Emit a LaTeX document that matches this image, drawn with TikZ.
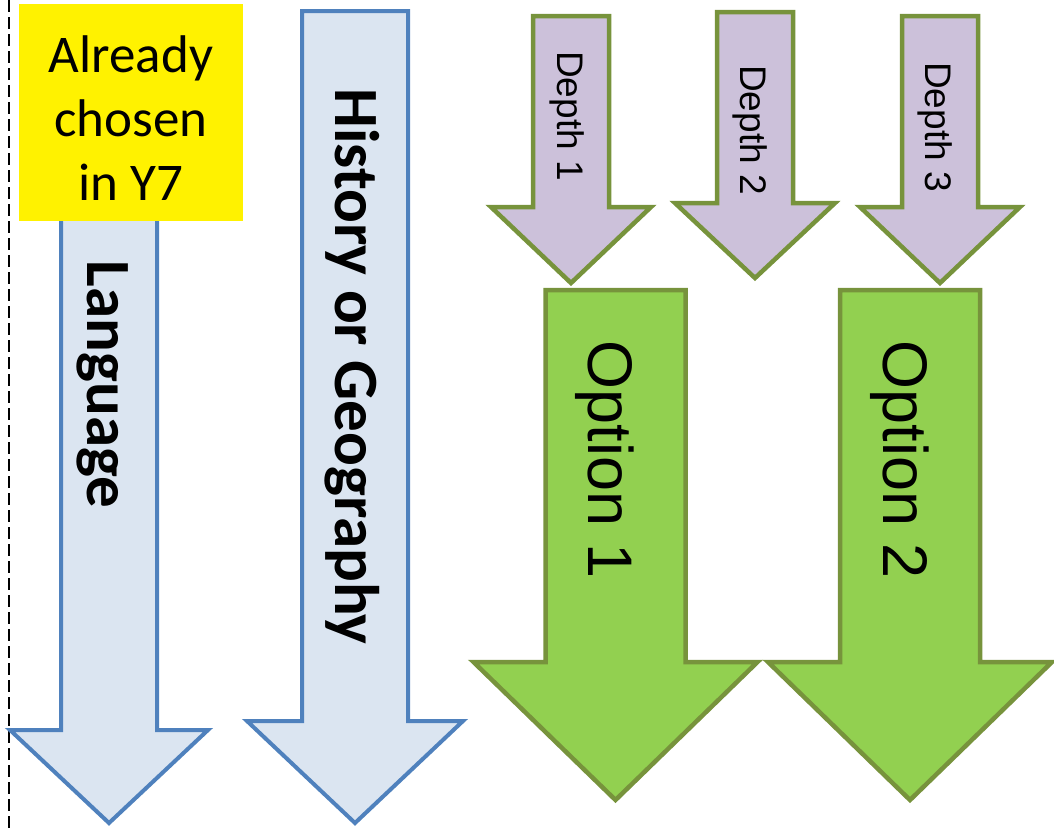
\documentclass[tikz,border=0pt]{standalone}
\usepackage{fontspec}
\setmainfont{Carlito}
\usepackage{tikz}

\definecolor{subjline}{HTML}{4F81BD}
\definecolor{subjfill}{HTML}{DBE5F1}
\definecolor{optline}{HTML}{77933C}
\definecolor{optfill}{HTML}{92D050}
\definecolor{depthfill}{HTML}{CCC1DA}

% #1 style, #2 centre x, #3 top, #4 half shaft, #5 shoulder, #6 half head, #7 tip
\newcommand{\DownArrow}[7]{%
  \draw[#1] ({#2-#4},#3) -- ({#2+#4},#3) -- ({#2+#4},#5) -- ({#2+#6},#5)
    -- (#2,#7) -- ({#2-#6},#5) -- ({#2-#4},#5) -- cycle;}

\tikzset{
  subject/.style={draw=subjline,fill=subjfill,line width=4pt},
  depth/.style={draw=optline,fill=depthfill,line width=4.5pt},
  option/.style={draw=optline,fill=optfill,line width=4.5pt},
  sidelabel/.style={rotate=-90,anchor=base,inner sep=0pt},
  subjtext/.style={sidelabel,font=\bfseries\fontsize{63}{63}\selectfont},
  opttext/.style={sidelabel,font={\fontspec{Liberation Sans}\fontsize{63}{63}\selectfont}},
  depthtext/.style={sidelabel,font={\fontspec{Liberation Sans}\fontsize{37}{37}\selectfont}},
  chosenbox/.style={fill=yellow,inner sep=0pt,minimum width=224pt,minimum height=217pt},
  chosentext/.style={align=center,inner sep=0pt,font=\fontsize{53}{64}\selectfont}
}

\begin{document}
\begin{tikzpicture}[x=1pt,y=-1pt]
    \useasboundingbox (0,0) rectangle (1054,828);
    \draw[dash pattern=on 12pt off 5pt,line width=1.3pt] (9,0) -- (9,828);

    \DownArrow{subject}{109}{200}{48}{730}{99}{823}
    \DownArrow{subject}{355}{11}{53}{721}{108}{823}
    \DownArrow{depth}{571}{16}{38}{207}{80}{283}
    \DownArrow{depth}{755}{12}{38}{203}{80}{278}
    \DownArrow{depth}{940}{16}{38}{207}{80}{283}
    \DownArrow{option}{615.5}{290}{70}{662}{142}{800}
    \DownArrow{option}{910}{290}{70}{662}{142}{800}

    \node (chosen) [chosenbox] at (131,112.5) {};
    \node (chosenlbl) [chosentext] at (131,118) {Already\\chosen\\in Y7};

    \node (lang) [subjtext] at (87,384.5) {Language};
    \node (hist) [subjtext] at (335,366.5) {History or Geography};
    \node (opt1) [opttext] at (588,460) {Option 1};
    \node (opt2) [opttext] at (883,460) {Option 2};
    \node (dep1) [depthtext] at (557,116) {Depth 1};
    \node (dep2) [depthtext] at (740,130) {Depth 2};
    \node (dep3) [depthtext] at (925,127) {Depth 3};
\end{tikzpicture}
\end{document}
